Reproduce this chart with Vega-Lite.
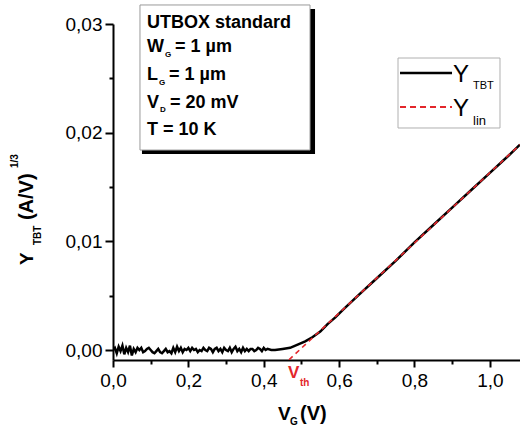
{
  "$schema": "https://vega.github.io/schema/vega-lite/v6.json",
  "width": 407,
  "height": 336,
  "autosize": {"type": "none"},
  "padding": {"left": 113, "top": 24, "right": 0, "bottom": 72},
  "background": "white",
  "config": {
    "view": {"stroke": null},
    "font": "Liberation Sans",
    "text": {"font": "Liberation Sans", "color": "black"},
    "axis": {
      "domainColor": "black", "domainWidth": 2, "tickColor": "black", "tickWidth": 2,
      "labelFont": "Liberation Sans", "labelFontSize": 19, "labelColor": "black",
      "grid": false, "labelFlush": false, "labelOverlap": false
    }
  },
  "datasets": {
    "tbt": [
      {"vg": 0.000, "y": 0.0000}, {"vg": 0.005, "y": 0.0002}, {"vg": 0.010, "y": -0.0003}, {"vg": 0.015, "y": 0.0003},
      {"vg": 0.020, "y": -0.0001}, {"vg": 0.025, "y": 0.0004}, {"vg": 0.030, "y": -0.0004}, {"vg": 0.035, "y": 0.0002},
      {"vg": 0.040, "y": -0.0002}, {"vg": 0.045, "y": 0.0004}, {"vg": 0.050, "y": -0.0005}, {"vg": 0.055, "y": 0.0001},
      {"vg": 0.060, "y": -0.0002}, {"vg": 0.065, "y": 0.0002}, {"vg": 0.070, "y": 0.0000}, {"vg": 0.075, "y": 0.0002},
      {"vg": 0.080, "y": -0.0002}, {"vg": 0.085, "y": -0.0001}, {"vg": 0.090, "y": 0.0001}, {"vg": 0.095, "y": 0.0002},
      {"vg": 0.100, "y": 0.0000}, {"vg": 0.105, "y": -0.0002}, {"vg": 0.110, "y": -0.0003}, {"vg": 0.115, "y": -0.0001},
      {"vg": 0.120, "y": 0.0001}, {"vg": 0.125, "y": -0.0002}, {"vg": 0.130, "y": -0.0003}, {"vg": 0.135, "y": -0.0001},
      {"vg": 0.140, "y": 0.0001}, {"vg": 0.145, "y": -0.0002}, {"vg": 0.150, "y": -0.0001}, {"vg": 0.155, "y": -0.0003},
      {"vg": 0.160, "y": 0.0002}, {"vg": 0.165, "y": -0.0002}, {"vg": 0.170, "y": 0.0003}, {"vg": 0.175, "y": -0.0001},
      {"vg": 0.180, "y": 0.0002}, {"vg": 0.185, "y": -0.0002}, {"vg": 0.190, "y": 0.0001}, {"vg": 0.195, "y": 0.0000},
      {"vg": 0.200, "y": 0.0002}, {"vg": 0.205, "y": -0.0001}, {"vg": 0.210, "y": 0.0002}, {"vg": 0.215, "y": 0.0000},
      {"vg": 0.220, "y": 0.0001}, {"vg": 0.225, "y": -0.0002}, {"vg": 0.230, "y": 0.0000}, {"vg": 0.235, "y": -0.0001},
      {"vg": 0.240, "y": 0.0002}, {"vg": 0.245, "y": 0.0000}, {"vg": 0.250, "y": -0.0001}, {"vg": 0.255, "y": 0.0002},
      {"vg": 0.260, "y": 0.0001}, {"vg": 0.265, "y": -0.0002}, {"vg": 0.270, "y": 0.0001}, {"vg": 0.275, "y": 0.0002},
      {"vg": 0.280, "y": -0.0001}, {"vg": 0.285, "y": 0.0001}, {"vg": 0.290, "y": -0.0002}, {"vg": 0.295, "y": 0.0002},
      {"vg": 0.300, "y": 0.0000}, {"vg": 0.305, "y": -0.0001}, {"vg": 0.310, "y": 0.0002}, {"vg": 0.315, "y": -0.0002},
      {"vg": 0.320, "y": 0.0001}, {"vg": 0.325, "y": 0.0003}, {"vg": 0.330, "y": -0.0001}, {"vg": 0.335, "y": 0.0001},
      {"vg": 0.340, "y": -0.0002}, {"vg": 0.345, "y": 0.0002}, {"vg": 0.350, "y": -0.0001}, {"vg": 0.355, "y": 0.0001},
      {"vg": 0.360, "y": -0.0001}, {"vg": 0.365, "y": 0.0001}, {"vg": 0.370, "y": 0.0001}, {"vg": 0.375, "y": -0.0001},
      {"vg": 0.380, "y": 0.0000}, {"vg": 0.385, "y": 0.0002}, {"vg": 0.390, "y": 0.0001}, {"vg": 0.395, "y": -0.0001},
      {"vg": 0.400, "y": 0.0002}, {"vg": 0.405, "y": 0.0000}, {"vg": 0.410, "y": 0.0001}, {"vg": 0.420, "y": 0.0000},
      {"vg": 0.430, "y": 0.0000}, {"vg": 0.440, "y": 0.00005}, {"vg": 0.450, "y": 0.0001}, {"vg": 0.470, "y": 0.0002},
      {"vg": 0.490, "y": 0.0005}, {"vg": 0.510, "y": 0.0008}, {"vg": 0.530, "y": 0.0012}, {"vg": 0.550, "y": 0.0017},
      {"vg": 0.570, "y": 0.0024}, {"vg": 0.590, "y": 0.0030}, {"vg": 0.610, "y": 0.0037}, {"vg": 0.650, "y": 0.0050},
      {"vg": 0.700, "y": 0.0066}, {"vg": 0.750, "y": 0.0082}, {"vg": 0.800, "y": 0.0099}, {"vg": 0.850, "y": 0.0115},
      {"vg": 0.900, "y": 0.0131}, {"vg": 0.950, "y": 0.0147}, {"vg": 1.000, "y": 0.0163}, {"vg": 1.050, "y": 0.0179},
      {"vg": 1.080, "y": 0.0189}
    ],
    "lin": [
      {"vg": 0.467, "y": -0.0009},
      {"vg": 1.080, "y": 0.0189}
    ],
    "one": [{"n": 1}]
  },
  "data": {"name": "one"},
  "layer": [
    {
      "data": {"name": "tbt"},
      "mark": {"type": "line", "color": "black", "strokeWidth": 2.5, "clip": true},
      "encoding": {
        "x": {"field": "vg", "type": "quantitative", "title": null,
          "scale": {"domain": [0, 1.08], "nice": false, "zero": false},
          "axis": {"title": null, "values": [0, 0.1, 0.2, 0.3, 0.4, 0.5, 0.6, 0.7, 0.8, 0.9, 1.0],
            "labelExpr": "round(datum.value*10) % 2 == 0 ? replace(format(datum.value, '.1f'), '.', ',') : ''",
            "tickSize": {"condition": {"test": "round(datum.value*10) % 2 != 0", "value": 4}, "value": 7},
            "labelPadding": 4}},
        "y": {"field": "y", "type": "quantitative", "title": null,
          "scale": {"domain": [-0.00092, 0.03], "nice": false, "zero": false},
          "axis": {"title": null, "values": [0, 0.005, 0.01, 0.015, 0.02, 0.025, 0.03],
            "labelExpr": "round(datum.value*1000) % 10 == 0 ? replace(format(datum.value, '.2f'), '.', ',') : ''",
            "tickSize": {"condition": {"test": "round(datum.value*1000) % 10 != 0", "value": 4}, "value": 8},
            "labelPadding": 3}}
      }
    },
    {
      "data": {"name": "lin"},
      "mark": {"type": "line", "color": "#e3262b", "strokeWidth": 1.6, "strokeDash": [5, 4], "clip": true},
      "encoding": {
        "x": {"field": "vg", "type": "quantitative", "title": null},
        "y": {"field": "y", "type": "quantitative", "title": null}
      }
    },
    {
      "mark": {"type": "rect", "color": "black"},
      "encoding": {
        "x": {"datum": 0.0769, "type": "quantitative"}, "x2": {"datum": 0.5361},
        "y": {"datum": 0.03138, "type": "quantitative"}, "y2": {"datum": 0.01803}
      }
    },
    {
      "mark": {"type": "rect", "fill": "white", "stroke": "#9a9a9a", "strokeWidth": 1},
      "encoding": {
        "x": {"datum": 0.0716, "type": "quantitative"}, "x2": {"datum": 0.5228},
        "y": {"datum": 0.03175, "type": "quantitative"}, "y2": {"datum": 0.0184}
      }
    },
    {
      "mark": {"type": "text", "align": "left", "baseline": "alphabetic", "fontWeight": "bold", "fontSize": 18},
      "encoding": {"x": {"datum": 0.0902, "type": "quantitative"}, "y": {"datum": 0.02963, "type": "quantitative"}, "text": {"value": "UTBOX standard"}}
    },
    {
      "mark": {"type": "text", "align": "left", "baseline": "alphabetic", "fontWeight": "bold", "fontSize": 18},
      "encoding": {"x": {"datum": 0.0902, "type": "quantitative"}, "y": {"datum": 0.02742, "type": "quantitative"}, "text": {"value": "W"}}
    },
    {
      "mark": {"type": "text", "align": "left", "baseline": "alphabetic", "fontWeight": "bold", "fontSize": 8},
      "encoding": {"x": {"datum": 0.1380, "type": "quantitative"}, "y": {"datum": 0.02696, "type": "quantitative"}, "text": {"value": "G"}}
    },
    {
      "mark": {"type": "text", "align": "left", "baseline": "alphabetic", "fontWeight": "bold", "fontSize": 18},
      "encoding": {"x": {"datum": 0.1645, "type": "quantitative"}, "y": {"datum": 0.02742, "type": "quantitative"}, "text": {"value": "= 1 µm"}}
    },
    {
      "mark": {"type": "text", "align": "left", "baseline": "alphabetic", "fontWeight": "bold", "fontSize": 18},
      "encoding": {"x": {"datum": 0.0902, "type": "quantitative"}, "y": {"datum": 0.02484, "type": "quantitative"}, "text": {"value": "L"}}
    },
    {
      "mark": {"type": "text", "align": "left", "baseline": "alphabetic", "fontWeight": "bold", "fontSize": 8},
      "encoding": {"x": {"datum": 0.1221, "type": "quantitative"}, "y": {"datum": 0.02438, "type": "quantitative"}, "text": {"value": "G"}}
    },
    {
      "mark": {"type": "text", "align": "left", "baseline": "alphabetic", "fontWeight": "bold", "fontSize": 18},
      "encoding": {"x": {"datum": 0.1486, "type": "quantitative"}, "y": {"datum": 0.02484, "type": "quantitative"}, "text": {"value": "= 1 µm"}}
    },
    {
      "mark": {"type": "text", "align": "left", "baseline": "alphabetic", "fontWeight": "bold", "fontSize": 18},
      "encoding": {"x": {"datum": 0.0902, "type": "quantitative"}, "y": {"datum": 0.02227, "type": "quantitative"}, "text": {"value": "V"}}
    },
    {
      "mark": {"type": "text", "align": "left", "baseline": "alphabetic", "fontWeight": "bold", "fontSize": 8},
      "encoding": {"x": {"datum": 0.1247, "type": "quantitative"}, "y": {"datum": 0.02190, "type": "quantitative"}, "text": {"value": "D"}}
    },
    {
      "mark": {"type": "text", "align": "left", "baseline": "alphabetic", "fontWeight": "bold", "fontSize": 18},
      "encoding": {"x": {"datum": 0.1512, "type": "quantitative"}, "y": {"datum": 0.02227, "type": "quantitative"}, "text": {"value": "= 20 mV"}}
    },
    {
      "mark": {"type": "text", "align": "left", "baseline": "alphabetic", "fontWeight": "bold", "fontSize": 18},
      "encoding": {"x": {"datum": 0.0902, "type": "quantitative"}, "y": {"datum": 0.01978, "type": "quantitative"}, "text": {"value": "T = 10 K"}}
    },
    {
      "mark": {"type": "rect", "fill": "white", "stroke": "#b0b0b0", "strokeWidth": 1},
      "encoding": {
        "x": {"datum": 0.7563, "type": "quantitative"}, "x2": {"datum": 1.0269},
        "y": {"datum": 0.02687, "type": "quantitative"}, "y2": {"datum": 0.02043}
      }
    },
    {
      "mark": {"type": "rule", "color": "black", "strokeWidth": 2.5},
      "encoding": {
        "x": {"datum": 0.7616, "type": "quantitative"}, "x2": {"datum": 0.8996},
        "y": {"datum": 0.02549, "type": "quantitative"}
      }
    },
    {
      "mark": {"type": "rule", "color": "#e3262b", "strokeWidth": 2, "strokeDash": [6, 4]},
      "encoding": {
        "x": {"datum": 0.7616, "type": "quantitative"}, "x2": {"datum": 0.8996},
        "y": {"datum": 0.02236, "type": "quantitative"}
      }
    },
    {
      "mark": {"type": "text", "align": "left", "baseline": "alphabetic", "fontSize": 24},
      "encoding": {"x": {"datum": 0.9022, "type": "quantitative"}, "y": {"datum": 0.02466, "type": "quantitative"}, "text": {"value": "Y"}}
    },
    {
      "mark": {"type": "text", "align": "left", "baseline": "alphabetic", "fontSize": 11},
      "encoding": {"x": {"datum": 0.9553, "type": "quantitative"}, "y": {"datum": 0.0240, "type": "quantitative"}, "text": {"value": "TBT"}}
    },
    {
      "mark": {"type": "text", "align": "left", "baseline": "alphabetic", "fontSize": 24},
      "encoding": {"x": {"datum": 0.9022, "type": "quantitative"}, "y": {"datum": 0.02153, "type": "quantitative"}, "text": {"value": "Y"}}
    },
    {
      "mark": {"type": "text", "align": "left", "baseline": "alphabetic", "fontSize": 13},
      "encoding": {"x": {"datum": 0.9553, "type": "quantitative"}, "y": {"datum": 0.0207, "type": "quantitative"}, "text": {"value": "lin"}}
    },
    {
      "mark": {"type": "text", "align": "left", "baseline": "alphabetic", "fontWeight": "bold", "fontSize": 17, "color": "#e3262b"},
      "encoding": {"x": {"datum": 0.4644, "type": "quantitative"}, "y": {"datum": -0.00258, "type": "quantitative"}, "text": {"value": "V"}}
    },
    {
      "mark": {"type": "text", "align": "left", "baseline": "alphabetic", "fontWeight": "bold", "fontSize": 10, "color": "#e3262b"},
      "encoding": {"x": {"datum": 0.4962, "type": "quantitative"}, "y": {"datum": -0.00331, "type": "quantitative"}, "text": {"value": "th"}}
    },
    {
      "mark": {"type": "text", "align": "left", "baseline": "alphabetic", "fontWeight": "bold", "fontSize": 19},
      "encoding": {"x": {"datum": 0.4378, "type": "quantitative"}, "y": {"datum": -0.00644, "type": "quantitative"}, "text": {"value": "V"}}
    },
    {
      "mark": {"type": "text", "align": "left", "baseline": "alphabetic", "fontWeight": "bold", "fontSize": 10},
      "encoding": {"x": {"datum": 0.4697, "type": "quantitative"}, "y": {"datum": -0.0069, "type": "quantitative"}, "text": {"value": "G"}}
    },
    {
      "mark": {"type": "text", "align": "left", "baseline": "alphabetic", "fontWeight": "bold", "fontSize": 20},
      "encoding": {"x": {"datum": 0.4962, "type": "quantitative"}, "y": {"datum": -0.00644, "type": "quantitative"}, "text": {"value": "(V)"}}
    },
    {
      "mark": {"type": "text", "align": "left", "baseline": "alphabetic", "fontWeight": "bold", "fontSize": 19, "angle": 270},
      "encoding": {"x": {"datum": -0.2123, "type": "quantitative"}, "y": {"datum": 0.00782, "type": "quantitative"}, "text": {"value": "Y"}}
    },
    {
      "mark": {"type": "text", "align": "left", "baseline": "alphabetic", "fontWeight": "bold", "fontSize": 10, "angle": 270},
      "encoding": {"x": {"datum": -0.1911, "type": "quantitative"}, "y": {"datum": 0.00966, "type": "quantitative"}, "text": {"value": "TBT"}}
    },
    {
      "mark": {"type": "text", "align": "left", "baseline": "alphabetic", "fontWeight": "bold", "fontSize": 20, "angle": 270},
      "encoding": {"x": {"datum": -0.2123, "type": "quantitative"}, "y": {"datum": 0.01196, "type": "quantitative"}, "text": {"value": "(A/V)"}}
    },
    {
      "mark": {"type": "text", "align": "left", "baseline": "alphabetic", "fontWeight": "bold", "fontSize": 10, "angle": 270},
      "encoding": {"x": {"datum": -0.2521, "type": "quantitative"}, "y": {"datum": 0.01675, "type": "quantitative"}, "text": {"value": "1/3"}}
    }
  ]
}
